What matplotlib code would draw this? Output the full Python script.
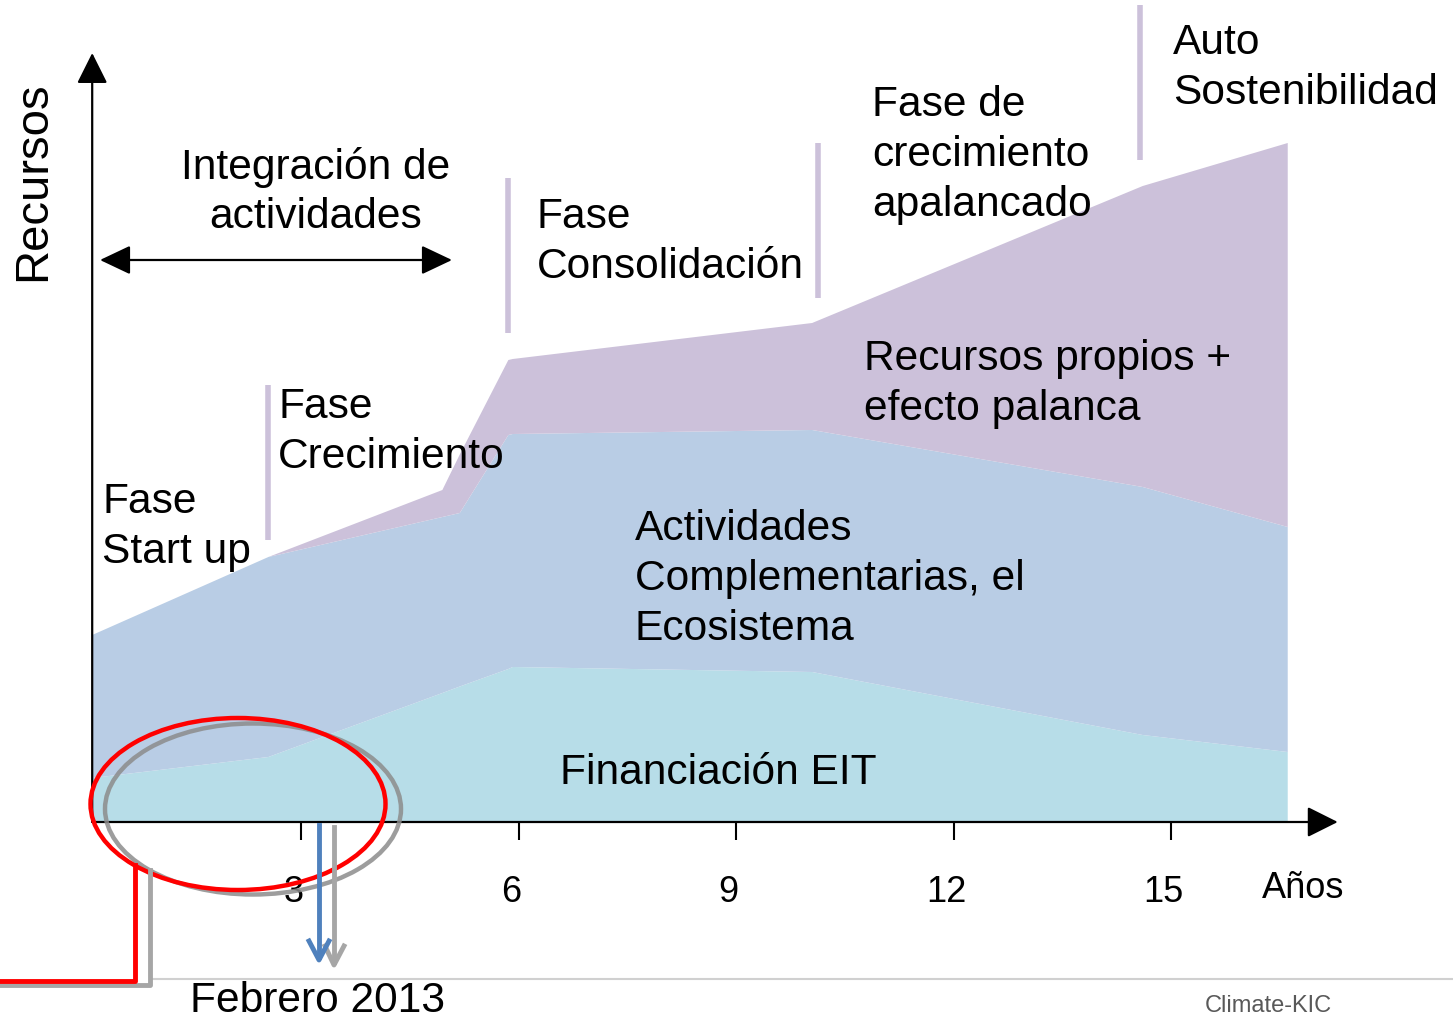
import matplotlib
matplotlib.use("Agg")
import matplotlib.pyplot as plt
from matplotlib.patches import Ellipse
import numpy as np

plt.rcParams['font.family'] = ['Liberation Sans', 'DejaVu Sans']

# años (eje x) y recursos por capa (unidades arbitrarias)
anios = [0.12, 2.55, 4.95, 5.19, 5.86, 5.92, 10.05, 14.61, 16.61]
financiacion_eit = [0.44, 0.65, 1.29, 1.355, 1.53, 1.55, 1.50, 0.87, 0.70]
actividades = [1.43, 2.00, 1.76, 1.735, 2.34, 2.33, 2.42, 2.48, 2.25]
propios = [0.0, 0.0, 0.27, 0.585, 0.75, 0.75, 1.07, 3.01, 3.84]
ticks = [3, 6, 9, 12, 15]
tick_labels = ['3', '6', '9', '12', '15']

colores = ['#b7dde8', '#b9cde5', '#ccc1da']

W, H = 1453, 1021
fig = plt.figure(figsize=(W / 100, H / 100), dpi=100)

# ejes de datos: 72.5 px por año, 100 px por unidad
ax = fig.add_axes([0, 0, 1, 1])
ax.set_xlim(-83.5 / 72.5, (W - 83.5) / 72.5)
ax.set_ylim(-(H - 822) / 100, 822 / 100)
ax.axis('off')

ax.stackplot(anios, financiacion_eit, actividades, propios, colors=colores, lw=0)

x0 = anios[0]
ax.annotate('', xy=(x0, 7.69), xytext=(x0, 0),
            arrowprops=dict(arrowstyle='-|>,head_length=19,head_width=9.5', mutation_scale=1,
                            color='black', lw=1.6, shrinkA=0, shrinkB=0))
ax.annotate('', xy=(17.30, 0), xytext=(x0, 0),
            arrowprops=dict(arrowstyle='-|>,head_length=19,head_width=9.5', mutation_scale=1,
                            color='black', lw=1.6, shrinkA=0, shrinkB=0))
ax.vlines(ticks, -0.18, 0, color='black', lw=1.5)
for t, lab in zip(ticks, tick_labels):
    ax.text(t - 0.1, -0.70, lab, ha='center', va='center', fontsize=26)

# capa de anotaciones en píxeles
d = fig.add_axes([0, 0, 1, 1], facecolor='none')
d.set_xlim(0, W)
d.set_ylim(H, 0)
d.axis('off')

sep = '#ccc1da'
for x, y1, y2 in [(268, 385, 540), (508, 178, 333), (818, 143, 298), (1140, 5, 160)]:
    d.plot([x, x], [y1, y2], color=sep, lw=4, solid_capstyle='butt')

d.annotate('', xy=(100, 260), xytext=(452, 260),
           arrowprops=dict(arrowstyle='<|-|>,head_length=19,head_width=9', mutation_scale=1,
                           color='black', lw=1.6, shrinkA=0, shrinkB=0))

fs = 30.6
ls = 1.32
d.text(316, 192, 'Integración de\nactividades', ha='center', va='center', fontsize=fs, linespacing=ls)
d.text(537, 242, 'Fase\nConsolidación', ha='left', va='center', fontsize=fs, linespacing=ls)
d.text(872, 155, 'Fase de\ncrecimiento\napalancado', ha='left', va='center', fontsize=fs, linespacing=ls)
d.text(1173, 68, 'Auto\nSostenibilidad', ha='left', va='center', fontsize=fs, linespacing=ls)
d.text(278, 432, 'Fase\nCrecimiento', ha='left', va='center', fontsize=fs, linespacing=ls)
d.text(102, 527, 'Fase\nStart up', ha='left', va='center', fontsize=fs, linespacing=ls)
d.text(864, 384, 'Recursos propios +\nefecto palanca', ha='left', va='center', fontsize=fs, linespacing=ls)
d.text(635, 579, 'Actividades\nComplementarias, el\nEcosistema', ha='left', va='center', fontsize=fs, linespacing=ls)
d.text(560, 773, 'Financiación EIT', ha='left', va='center', fontsize=fs)
d.text(33, 181, 'Recursos', ha='center', va='center', rotation=90, fontsize=34)
d.text(1303, 888, 'Años', ha='center', va='center', fontsize=26)
d.text(318, 1001, 'Febrero 2013', ha='center', va='center', fontsize=fs)
d.text(1268, 1006, 'Climate-KIC', ha='center', va='center', fontsize=17, color='#595959')

# líneas y elipses de resaltado
d.plot([150, W], [979, 979], color='#d0d0d0', lw=1.5)
d.plot([0, 150, 150], [985, 985, 870], color='#a6a6a6', lw=3.5)
d.plot([0, 135, 135], [981, 981, 865], color='#ff0000', lw=3.5)
d.add_patch(Ellipse((253, 809), 296, 171, fill=False, ec='#8c8c8c', lw=3.2, alpha=0.85))
d.add_patch(Ellipse((238, 804), 295, 172, fill=False, ec='#ff0000', lw=3.2))

d.plot([334, 334], [827, 962], color='#a6a6a6', lw=3.5)
d.plot([325, 334, 344], [946, 965, 946], color='#a6a6a6', lw=3.5)
d.plot([319, 319], [825, 957], color='#4f81bd', lw=3.5)
d.plot([309, 319, 329], [941, 960, 941], color='#4f81bd', lw=3.5)

fig.savefig('out.png', dpi=100)
